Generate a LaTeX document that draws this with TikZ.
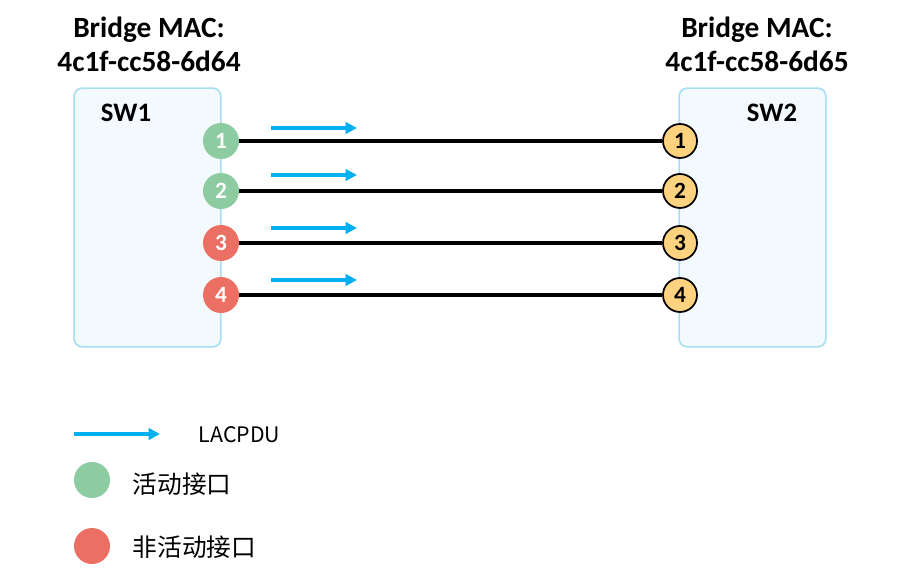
\documentclass[tikz,border=0pt]{standalone}
\usepackage{fontspec}
\setmainfont{Carlito}
\newfontfamily\cjk{Noto Sans CJK SC}
\usetikzlibrary{arrows.meta}
\definecolor{swline}{HTML}{A8DDF2}
\definecolor{swfill}{HTML}{F2FAFD}
\definecolor{actgreen}{HTML}{8DCBA0}
\definecolor{inactred}{HTML}{EB7063}
\definecolor{peerport}{HTML}{FFD27F}
\definecolor{pdublue}{HTML}{00B0F0}
\tikzset{>={Triangle[length=8.5pt,width=8.5pt]}}
\tikzset{
  swbox/.style={draw=swline, fill=swfill, rounded corners=6pt, line width=1.2pt,
    minimum width=110pt, minimum height=194pt, inner sep=0pt},
  mac/.style={align=center, font=\bfseries\fontsize{22}{25.5}\selectfont},
  swname/.style={font=\bfseries\fontsize{20}{20}\selectfont},
  port/.style={circle, minimum size=27pt, inner sep=0pt, font=\bfseries\fontsize{17.5}{17.5}\selectfont},
  actport/.style={port, fill=actgreen, text=white},
  inactport/.style={port, fill=inactred, text=white},
  peer/.style={port, fill=peerport, draw=black, line width=1.3pt, minimum size=25.5pt},
  link/.style={line width=2.4pt},
  pdu/.style={->, draw=pdublue, line width=2.8pt},
  legtext/.style={anchor=west, font=\cjk\fontsize{18.5}{18.5}\selectfont}
}

\begin{document}
\begin{tikzpicture}[x=0.75pt, y=-0.75pt]
\useasboundingbox (0,0) rectangle (907,578);
% switches
\node[swbox] (sw1) at (147.5,217.5) {};
\node[swbox] (sw2) at (752.5,217.5) {};
\node[swname] (sw1name) at (126,113) {SW1};
\node[swname] (sw2name) at (772,113) {SW2};
\node[mac] (mac1) at (149,44) {Bridge MAC:\\4c1f-cc58-6d64};
\node[mac] (mac2) at (757,44) {Bridge MAC:\\4c1f-cc58-6d65};
% ports and links
\foreach \i/\y/\st/\ay in {1/141/actport/128, 2/191/actport/175, 3/243/inactport/228, 4/295/inactport/280}{
  \node[\st] (l\i) at (221,\y) {\i};
  \node[peer] (r\i) at (680,\y) {\i};
  \draw[link] (l\i) -- (r\i);
  \coordinate (a\i) at (271,\ay);
  \coordinate (b\i) at (357,\ay);
  \draw[pdu] (a\i) -- (b\i);
}
% legend
\coordinate (lega) at (74,434);
\coordinate (legb) at (160,434);
\draw[pdu] (lega) -- (legb);
\node[legtext, font=\cjk\fontsize{16}{16}\selectfont] (legpdu) at (194,435) {LACPDU};
\node[port, fill=actgreen, minimum size=27pt] (legact) at (92,480) {};
\node[legtext] (legacttext) at (128,484) {活动接口};
\node[port, fill=inactred, minimum size=27pt] (leginact) at (92,546) {};
\node[legtext] (leginacttext) at (128,547) {非活动接口};
\end{tikzpicture}
\end{document}
